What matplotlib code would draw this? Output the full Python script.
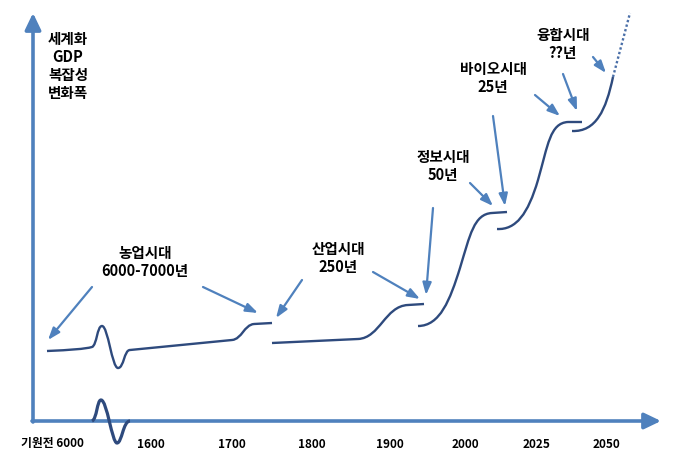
import matplotlib
matplotlib.use("Agg")
import matplotlib.pyplot as plt
from matplotlib.path import Path
from matplotlib.patches import PathPatch, FancyArrowPatch

plt.rcParams['font.family'] = ['Noto Sans CJK KR', 'DejaVu Sans']

# axis label and ticks (x positions, in pixels)
y_label = "세계화\nGDP\n복잡성\n변화폭"
tick_labels = ["기원전 6000", "1600", "1700", "1800", "1900", "2000", "2025", "2050"]
tick_x = [52, 151, 232, 312, 390, 465, 537, 606]

# eras: name, duration, label centre
era_names = ["농업시대", "산업시대", "정보시대", "바이오시대", "융합시대"]
era_years = ["6000-7000년", "250년", "50년", "25년", "??년"]
era_xy = [(145, 262), (338, 258), (443, 166), (493, 78), (563, 44)]

# growth curve pieces: (codes, points) for cubic Bezier paths
M, L, C = Path.MOVETO, Path.LINETO, Path.CURVE4
agri_pts = [(47, 351), (70, 350), (85, 349), (92, 347),
            (97, 345), (97, 326), (102, 326),
            (108, 326), (112, 368), (118, 368),
            (124, 368), (124, 350), (130, 350),
            (232, 340),
            (242, 339), (244, 325), (254, 324),
            (272, 323)]
agri_codes = [M, C, C, C, C, C, C, C, C, C, C, C, C, L, C, C, C, L]
ind_pts = [(272, 343), (358, 339), (380, 338), (385, 306), (408, 305), (424, 304)]
ind_codes = [M, L, C, C, C, L]
info_pts = [(418, 326), (440, 326), (450, 300), (460, 268),
            (470, 235), (474, 214), (492, 213), (507, 212)]
info_codes = [M, C, C, C, C, C, C, L]
bio_pts = [(497, 229), (516, 230), (528, 214), (538, 180),
           (548, 145), (550, 123), (568, 122), (582, 122)]
bio_codes = [M, C, C, C, C, C, C, L]
fusion_pts = [(572, 131), (596, 132), (606, 110), (613, 77)]
fusion_codes = [M, C, C, C]
future_pts = [(613, 77), (630, 13)]

# bottom axis wiggle
wiggle_pts = [(92, 421), (97, 419), (97, 400), (101, 400),
              (107, 400), (112, 443), (117, 443),
              (122, 443), (123, 421), (130, 421)]
wiggle_codes = [M, C, C, C, C, C, C, C, C, C]

# annotation arrows: (start, end)
arrows = [((92, 287), (48, 340)), ((203, 287), (258, 313)),
          ((302, 280), (276, 318)), ((373, 272), (420, 299)),
          ((433, 208), (426, 295)), ((470, 183), (493, 206)),
          ((493, 116), (505, 206)), ((535, 95), (560, 116)),
          ((563, 74), (577, 111)), ((593, 57), (606, 73))]

curve_col = "#2E4A7D"
arrow_col = "#4F81BD"

fig = plt.figure(figsize=(6.75, 4.59), dpi=100)
ax = fig.add_axes([0, 0, 1, 1])
ax.set_xlim(0, 675)
ax.set_ylim(459, 0)
ax.axis("off")

# axes with arrow heads
ax.add_patch(FancyArrowPatch((33, 422), (33, 13), arrowstyle="-|>,head_length=5,head_width=2.4",
                             color=arrow_col, lw=2.6, shrinkA=0, shrinkB=0, mutation_scale=2))
ax.add_patch(FancyArrowPatch((32, 421), (661, 421), arrowstyle="-|>,head_length=5,head_width=2.4",
                             color=arrow_col, lw=2.6, shrinkA=0, shrinkB=0, mutation_scale=2))
ax.add_patch(PathPatch(Path(wiggle_pts, wiggle_codes), fill=False, ec=curve_col, lw=2.3))

for pts, codes in [(agri_pts, agri_codes), (ind_pts, ind_codes), (info_pts, info_codes),
                   (bio_pts, bio_codes), (fusion_pts, fusion_codes)]:
    ax.add_patch(PathPatch(Path(pts, codes), fill=False, ec=curve_col, lw=1.7,
                           capstyle="butt"))
ax.plot([p[0] for p in future_pts], [p[1] for p in future_pts], color="#4A6FA8",
        lw=1.7, linestyle=(0, (1, 1)))

for start, end in arrows:
    ax.add_patch(FancyArrowPatch(start, end, arrowstyle="-|>,head_length=3.6,head_width=1.3",
                                 color=arrow_col, lw=1.6, shrinkA=0, shrinkB=0,
                                 mutation_scale=2))

for name, yrs, (x, y) in zip(era_names, era_years, era_xy):
    ax.text(x, y, name + "\n" + yrs, ha="center", va="center", fontsize=10.5,
            fontweight="bold", linespacing=1.2)

ax.text(68, 66, y_label, ha="center", va="center", fontsize=10.5,
        fontweight="bold", linespacing=1.15)

for lbl, x in zip(tick_labels, tick_x):
    ax.text(x, 444, lbl, ha="center", va="center", fontsize=8.5, fontweight="bold")

fig.savefig("out.png", dpi=100)
